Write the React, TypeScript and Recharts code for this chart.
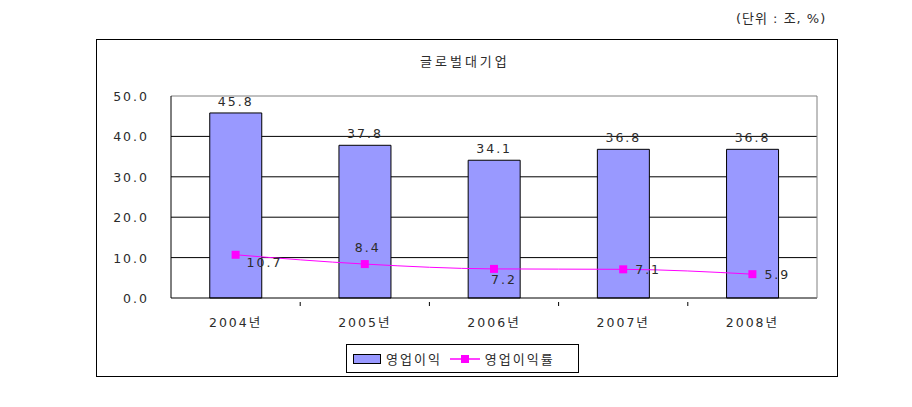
import React from 'react'
import {
  ComposedChart,
  Bar,
  Line,
  XAxis,
  YAxis,
  CartesianGrid,
  LabelList,
} from 'recharts'

// 글로벌대기업 영업이익 / 영업이익률
const years = ['2004년', '2005년', '2006년', '2007년', '2008년']
const profit = [45.8, 37.8, 34.1, 36.8, 36.8]
const margin = [10.7, 8.4, 7.2, 7.1, 5.9]
const yTicks = [0, 10, 20, 30, 40, 50]

// where each 영업이익률 label sits relative to its point
const marginLabelSide = ['rightBelow', 'above', 'below', 'right', 'right']

const data = years.map((year, i) => ({ year, profit: profit[i], margin: margin[i] }))

const FONT = '"DejaVu Sans", "Noto Sans CJK KR", sans-serif'
const TEXT = '#2b2b2b'
const BAR_FILL = '#9999ff'
const LINE = '#ff00ff'

const W = 912
const H = 407
const X_AXIS_H = 30
const Y_AXIS_W = 50
const M = { top: 95, right: 94, bottom: 109 - X_AXIS_H, left: 121 }
const BAND = (W - M.left - Y_AXIS_W - M.right - 1) / years.length

const XTick = (props: any) => {
  const { x, y, payload, index } = props
  return (
    <g>
      {index > 0 && (
        <line x1={x - BAND / 2} x2={x - BAND / 2} y1={y} y2={y - 4} stroke="#000" />
      )}
      <text
        x={x}
        y={y + 21}
        textAnchor="middle"
        fontSize={12.5}
        fill={TEXT}
        fontFamily={FONT}
        letterSpacing={2}
      >
        {payload.value}
      </text>
    </g>
  )
}

const YTick = (props: any) => {
  const { x, y, payload } = props
  return (
    <text
      x={x - 14}
      y={y + 5}
      textAnchor="end"
      fontSize={12.5}
      fill={TEXT}
      fontFamily={FONT}
      letterSpacing={2}
    >
      {payload.value.toFixed(1)}
    </text>
  )
}

const MarginLabel = (props: any) => {
  const { x, y, value, index } = props
  const side = marginLabelSide[index]
  let tx = x
  let ty = y
  let anchor: 'start' | 'middle' = 'middle'
  if (side === 'rightBelow') {
    tx = x + 11
    ty = y + 12
    anchor = 'start'
  } else if (side === 'above') {
    tx = x + 3
    ty = y - 12
  } else if (side === 'below') {
    tx = x + 10
    ty = y + 15
  } else {
    tx = x + 12
    ty = y + 5
    anchor = 'start'
  }
  return (
    <text
      x={tx}
      y={ty}
      textAnchor={anchor}
      fontSize={12.5}
      fill={TEXT}
      fontFamily={FONT}
      letterSpacing={2}
    >
      {value.toFixed(1)}
    </text>
  )
}

const LegendBox = () => (
  <div
    style={{
      position: 'absolute',
      left: 346,
      top: 344,
      border: '1px solid #000',
      width: 233,
      height: 29,
      boxSizing: 'border-box',
      display: 'flex',
      alignItems: 'center',
      fontFamily: FONT,
      fontSize: 13,
      color: TEXT,
      letterSpacing: 2,
      background: '#fff',
      whiteSpace: 'nowrap',
    }}
  >
    <span
      style={{
        display: 'inline-block',
        width: 26,
        height: 8,
        background: BAR_FILL,
        border: '1px solid #000',
        marginLeft: 6,
        marginRight: 5,
      }}
    />
    <span>영업이익</span>
    <svg width={30} height={10} style={{ marginLeft: 8, marginRight: 5 }}>
      <line x1={0} x2={30} y1={5} y2={5} stroke={LINE} strokeWidth={1.5} />
      <rect x={11} y={1} width={8} height={8} fill={LINE} />
    </svg>
    <span>영업이익률</span>
  </div>
)

export default function App() {
  return (
    <div style={{ position: 'absolute', left: 0, top: 0, width: W, height: H, background: '#fff' }}>
      <div
        style={{
          position: 'absolute',
          left: 96,
          top: 39,
          width: 742,
          height: 338,
          border: '1px solid #000',
          boxSizing: 'border-box',
        }}
      />
      <div
        style={{
          position: 'absolute',
          left: 736,
          top: 8,
          fontFamily: FONT,
          fontSize: 13,
          color: TEXT,
          letterSpacing: 1,
          whiteSpace: 'nowrap',
        }}
      >
        (단위 : 조, %)
      </div>
      <div
        style={{
          position: 'absolute',
          left: 420,
          top: 51,
          fontFamily: FONT,
          fontSize: 13,
          color: TEXT,
          letterSpacing: 3,
          whiteSpace: 'nowrap',
        }}
      >
        글로벌대기업
      </div>
      <div style={{ position: 'absolute', left: 0, top: 0 }}>
        <ComposedChart width={W} height={H} data={data} margin={M} barCategoryGap="30%">
          <CartesianGrid vertical={false} stroke="#000" horizontalValues={[10, 20, 30, 40]} />
          <XAxis
            dataKey="year"
            axisLine={{ stroke: '#000' }}
            tickLine={false}
            tick={<XTick />}
            interval={0}
            height={X_AXIS_H}
          />
          <XAxis
            xAxisId="top"
            dataKey="year"
            orientation="top"
            axisLine={{ stroke: '#808080' }}
            tick={false}
            tickLine={false}
            height={1}
          />
          <YAxis
            domain={[0, 50]}
            ticks={yTicks}
            axisLine={{ stroke: '#000' }}
            tickLine={false}
            tick={<YTick />}
            width={Y_AXIS_W}
          />
          <YAxis
            yAxisId="right"
            orientation="right"
            domain={[0, 50]}
            axisLine={{ stroke: '#808080' }}
            tick={false}
            tickLine={false}
            width={1}
          />
          <Bar dataKey="profit" name="영업이익" fill={BAR_FILL} stroke="#000" strokeWidth={1} isAnimationActive={false}>
            <LabelList
              dataKey="profit"
              position="top"
              offset={7}
              fill={TEXT}
              fontSize={12.5}
              fontFamily={FONT}
              letterSpacing={2}
              formatter={(v: any) => Number(v).toFixed(1)}
            />
          </Bar>
          <Line
            dataKey="margin"
            name="영업이익률"
            type="monotone"
            stroke={LINE}
            strokeWidth={1}
            dot={false}
            isAnimationActive={false}
          >
            <LabelList dataKey="margin" content={<MarginLabel />} />
          </Line>
          <Line
            dataKey="margin"
            legendType="none"
            stroke="none"
            dot={(p: any) => (
              <rect key={p.index} x={p.cx - 4} y={p.cy - 4} width={8} height={8} fill={LINE} />
            )}
            isAnimationActive={false}
          />
        </ComposedChart>
      </div>
      <LegendBox />
    </div>
  )
}
